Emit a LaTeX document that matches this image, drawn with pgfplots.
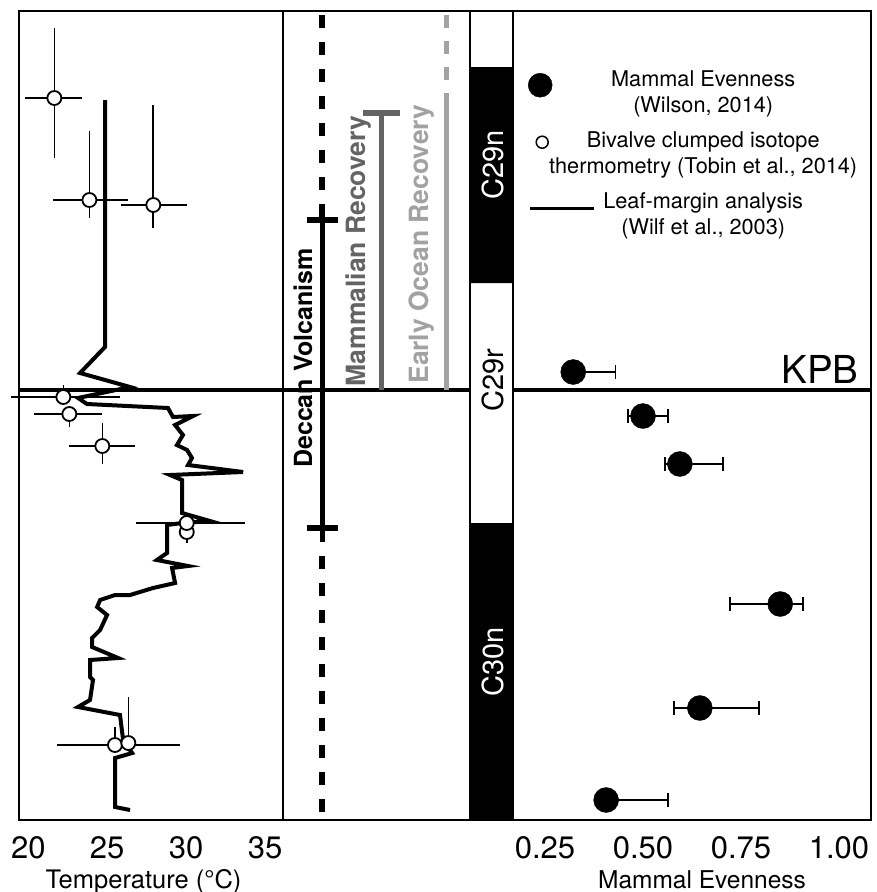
\documentclass[border=0pt]{standalone}
\usepackage{fontspec}
\setmainfont{TeX Gyre Heros}
\usepackage{pgfplots}
\usepackage{pgfplotstable}
\pgfplotsset{compat=1.18}

\definecolor{mamgray}{RGB}{100,100,100}
\definecolor{ocegray}{RGB}{162,162,162}

% leaf-margin temperature curve (T in degC, stratigraphic level)
\pgfplotstableread{
T y
24.86 720
24.86 473
23.28 447
26.45 433
23.15 422
23.72 416
28.85 412
29.17 403
30.44 404
29.30 395
29.80 385
29.42 375
30.06 370
30.37 362
30.12 355
33.61 348
28.98 345
29.74 340
29.74 307
31.51 299
29.74 297
28.79 295
28.79 267
28.15 260
30.12 254
29.11 252
29.30 237
27.90 232
26.45 225
25.50 225
24.55 220
24.36 213
24.99 205
24.55 190
24.04 182
24.04 173
25.69 162
23.91 160
23.91 143
24.10 140
23.91 120
23.15 113
25.81 105
26.01 80
26.58 67
25.50 62
25.50 13
26.45 10
}\leafdata

% bivalve clumped isotope temperatures
\pgfplotstableread{
T y xm xp ym yp
21.65 722 1.86 1.75 60 70
23.87 620 2.30 2.45 18 69
27.92 615 2.05 2.14 23 100
22.22 423 3.32 3.59 5 12
22.60 406 2.24 2.07 13 8
24.69 374 2.11 2.07 18 23
30.04 288 0.00 0.00 11 0
30.04 297 3.22 3.69 0 0
25.49 75 3.67 4.12 0 18
26.34 77 0.00 0.00 0 46
}\bivalve

% mammal evenness
\pgfplotstableread{
E y xm xp
0.322 448 0.010 0.108
0.500 404 0.038 0.064
0.594 356 0.038 0.110
0.850 216 0.128 0.058
0.645 112 0.066 0.151
0.406 20 0.010 0.158
}\evenness

\pgfplotsset{
  panel/.style={
    scale only axis, height=809pt, ymin=0, ymax=809, ytick=\empty,
    anchor=south west, clip=false,
    axis line style={line width=2.2pt},
    major tick length=0pt,
    /pgf/number format/assume math mode=true,
    xticklabel style={font=\fontsize{31}{36}\selectfont, anchor=base, yshift=-38pt},
  },
  dotleg/.style={legend image code/.code={%
    \path[draw=none,fill=none] (0pt,-33.8pt) rectangle (24pt,1pt);
    \draw[mark repeat=2,mark phase=2,##1] plot coordinates {(0pt,1pt) (12pt,1pt) (24pt,1pt)};}},
  circleg/.style={legend image code/.code={%
    \path[draw=none,fill=none] (0pt,-33.8pt) rectangle (24pt,1pt);
    \draw[mark repeat=2,mark phase=2,##1] plot coordinates {(0pt,5pt) (14pt,5pt) (28pt,5pt)};}},
  lineleg/.style={legend image code/.code={%
    \path[draw=none,fill=none] (0pt,-33.8pt) rectangle (24pt,1pt);
    \draw[##1, overlay] (2pt,0pt) -- (66pt,0pt);}},
}

\newcommand{\twolines}[2]{\begin{tabular}[t]{@{}c@{}}#1\\#2\end{tabular}}

\begin{document}
\begin{tikzpicture}
\useasboundingbox (0pt,0pt) rectangle (876pt,-892pt);

% ---------------- temperature panel ----------------
\begin{axis}[panel, at={(19pt,-820pt)}, width=264pt,
  xmin=19.41, xmax=36.14, xtick={20,25,30,35}]
\addplot[line width=3.8pt, forget plot] coordinates {(19.41,430) (36.14,430)};
\addplot[line width=4pt, forget plot] table[x=T,y=y]{\leafdata};
\addplot[only marks, mark=*, mark size=7pt, forget plot,
  mark options={fill=white, draw=black, line width=1.8pt},
  error bars/.cd, x dir=both, x explicit, y dir=both, y explicit, error mark=none,
  error bar style={line width=1.6pt, black}]
  table[x=T, y=y, x error plus=xp, x error minus=xm, y error plus=yp, y error minus=ym]{\bivalve};
\node[font=\fontsize{25.5}{30}\selectfont, anchor=base] at (axis cs:27.3,-68) {Temperature (°C)};
\end{axis}

% ---------------- event panel ----------------
\begin{axis}[panel, at={(283pt,-820pt)}, width=187pt, xmin=0, xmax=187, xtick=\empty]
\addplot[line width=3.8pt] coordinates {(0,430) (187,430)};
\addplot[line width=5.5pt, dash pattern=on 13pt off 14pt] coordinates {(39,805) (39,600)};
\addplot[line width=5pt] coordinates {(39,600) (39,278)};
\addplot[line width=5.5pt, dash pattern=on 13pt off 14pt] coordinates {(39,264) (39,7)};
\addplot[line width=6.5pt] coordinates {(23.5,600) (54.5,600)};
\addplot[line width=6.5pt] coordinates {(23.5,292) (54.5,292)};
\addplot[mamgray, line width=5pt] coordinates {(98,707) (98,430)};
\addplot[mamgray, line width=6.5pt] coordinates {(80,707) (117,707)};
\addplot[ocegray, line width=5pt, dash pattern=on 13pt off 13pt] coordinates {(163,805) (163,717)};
\addplot[ocegray, line width=5pt] coordinates {(163,717) (163,430)};
\node[rotate=90, anchor=base, font=\bfseries\fontsize{25}{30}\selectfont] at (axis cs:29,462) {Deccan Volcanism};
\node[rotate=90, anchor=base, text=mamgray, font=\bfseries\fontsize{26.5}{30}\selectfont] at (axis cs:82,569) {Mammalian Recovery};
\node[rotate=90, anchor=base, text=ocegray, font=\bfseries\fontsize{26.5}{30}\selectfont] at (axis cs:145,576) {Early Ocean Recovery};
\end{axis}

% ---------------- polarity column ----------------
\begin{axis}[panel, at={(470pt,-820pt)}, width=43pt, xmin=0, xmax=1, xtick=\empty,
  axis line style={line width=1.5pt}]
\addplot[fill=black, draw=none] coordinates {(0,0) (1,0) (1,297) (0,297) (0,0)};
\addplot[fill=black, draw=none] coordinates {(0,537) (1,537) (1,753) (0,753) (0,537)};
\node[rotate=90, anchor=base, text=white, font=\fontsize{29}{30}\selectfont] at (axis cs:0.77,655) {C29n};
\node[rotate=90, anchor=base, font=\fontsize{29}{30}\selectfont] at (axis cs:0.77,440) {C29r};
\node[rotate=90, anchor=base, text=white, font=\fontsize{29}{30}\selectfont] at (axis cs:0.77,158) {C30n};
\end{axis}

% ---------------- mammal evenness panel ----------------
\begin{axis}[panel, at={(513pt,-820pt)}, width=358pt,
  xmin=0.1684, xmax=1.0816, xtick={0.25,0.5,0.75,1}, xticklabels={0.25,0.50,0.75,1.00},
  legend style={draw=none, fill=none, at={(axis description cs:0.0419,0.9298)}, anchor=north west,
    inner sep=0pt, row sep=9pt, column sep=-3pt, font=\fontsize{21.7}{26}\selectfont,
    cells={anchor=base}, nodes={inner sep=0pt}}]
\addplot[line width=3.8pt, forget plot] coordinates {(0.1684,430) (1.0816,430)};
\addplot[only marks, mark=*, mark size=12.5pt, black, forget plot,
  error bars/.cd, x dir=both, x explicit,
  error mark options={rotate=90, mark size=7pt, line width=1.5pt, black},
  error bar style={line width=1.5pt, black}]
  table[x=E, y=y, x error plus=xp, x error minus=xm]{\evenness};
\addlegendimage{dotleg, only marks, mark=*, mark size=12pt, black}
\addlegendentry{\twolines{Mammal Evenness}{(Wilson, 2014)}}
\addlegendimage{circleg, only marks, mark=*, mark size=6pt, mark options={fill=white, draw=black, line width=1.5pt}}
\addlegendentry{\twolines{Bivalve clumped isotope}{thermometry (Tobin et al., 2014)}}
\addlegendimage{lineleg, line width=3pt, black}
\addlegendentry{\twolines{Leaf-margin analysis}{(Wilf et al., 2003)}}
\node[anchor=base, font=\fontsize{38.5}{40}\selectfont] at (axis cs:0.9515,437) {KPB};
\node[anchor=base, font=\fontsize{24.5}{30}\selectfont] at (axis cs:0.6505,-68) {Mammal Evenness};
\end{axis}
\end{tikzpicture}
\end{document}
